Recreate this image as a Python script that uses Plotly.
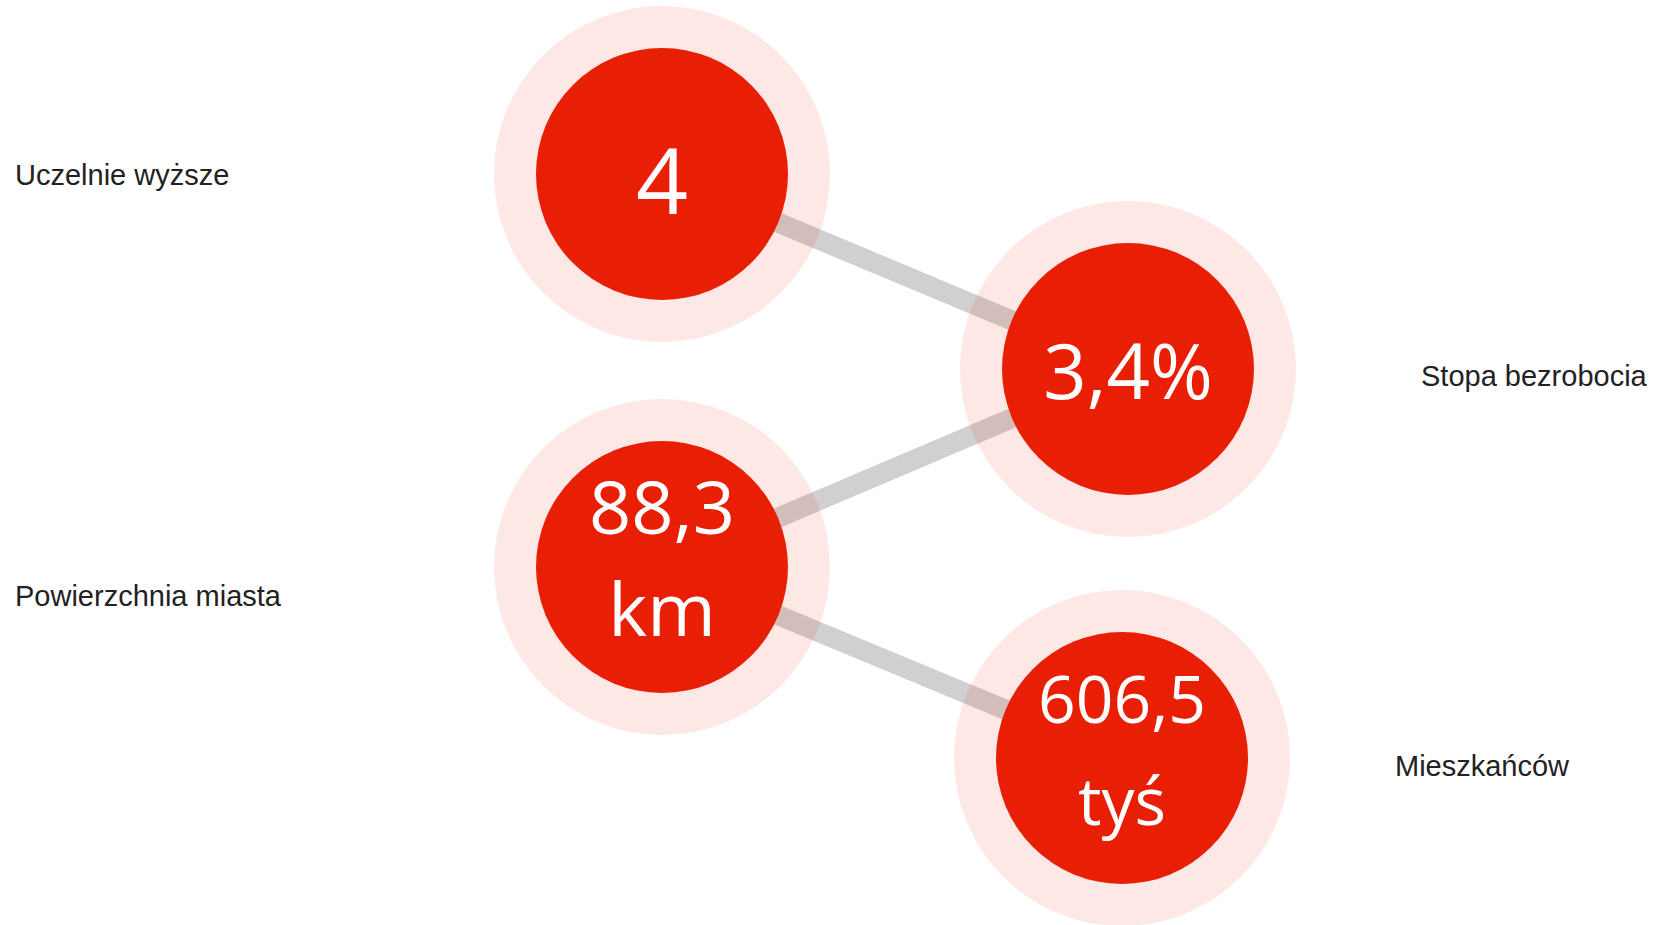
import plotly.graph_objects as go

# ---- data ----
labels = ["Uczelnie wyższe", "Stopa bezrobocia", "Powierzchnia miasta", "Mieszkańców"]
values = ["4", "3,4%", "88,3 km", "606,5 tyś"]
links = [(0, 1), (2, 1), (2, 3)]

# ---- layout (page-pixel axis coordinates) ----
W, H = 1657, 925
node_x = [662, 1128, 662, 1122]
node_y = [174, 369, 567, 758]
value_font = [91, 76, 74, 66]
# vertical offsets of the text lines relative to the node centre
line_dy = {1: [17], 2: [-52, 50]}
extra_dy = [0, -6, 0, 0]
label_x = [15, 1421, 15, 1395]
label_y = [178, 379, 599, 769]

RED = "#E81E05"
HALO = "rgba(232,30,5,0.1)"
LINK = "#D0D0D0"

fig = go.Figure()

# links (below halos)
for a, b in links:
    fig.add_trace(go.Scatter(
        x=[node_x[a], node_x[b]], y=[node_y[a], node_y[b]],
        mode="lines", line=dict(color=LINK, width=20),
        hoverinfo="skip", showlegend=False))

# halos
fig.add_trace(go.Scatter(
    x=node_x, y=node_y, mode="markers",
    marker=dict(size=336, color=HALO, line=dict(width=0)),
    cliponaxis=False, hoverinfo="skip", showlegend=False))

# inner circles
fig.add_trace(go.Scatter(
    x=node_x, y=node_y, mode="markers",
    marker=dict(size=252, color=RED, line=dict(width=0)),
    cliponaxis=False, hoverinfo="skip", showlegend=False))

# value texts (split into lines)
for i, v in enumerate(values):
    parts = v.split(" ")
    fs = value_font[i]
    ys = [node_y[i] + d + extra_dy[i] for d in line_dy[len(parts)]]
    fig.add_trace(go.Scatter(
        x=[node_x[i]] * len(parts), y=ys, mode="text", text=parts,
        textposition="middle center",
        textfont=dict(family="Open Sans", size=fs, color="white"),
        cliponaxis=False, hoverinfo="skip", showlegend=False))

# labels
fig.add_trace(go.Scatter(
    x=label_x, y=label_y, mode="text", text=labels,
    textposition="middle right",
    textfont=dict(family="Arial", size=29, color="#222222"),
    cliponaxis=False, hoverinfo="skip", showlegend=False))

fig.update_layout(
    width=W, height=H,
    margin=dict(l=0, r=0, t=0, b=0),
    paper_bgcolor="white", plot_bgcolor="white",
    xaxis=dict(range=[0, W], visible=False, fixedrange=True),
    yaxis=dict(range=[H, 0], visible=False, fixedrange=True),
)

fig.write_html(
    "out.html",
    config={"displayModeBar": False},
    post_script="document.body.style.margin='0';document.body.style.overflow='hidden';",
)
